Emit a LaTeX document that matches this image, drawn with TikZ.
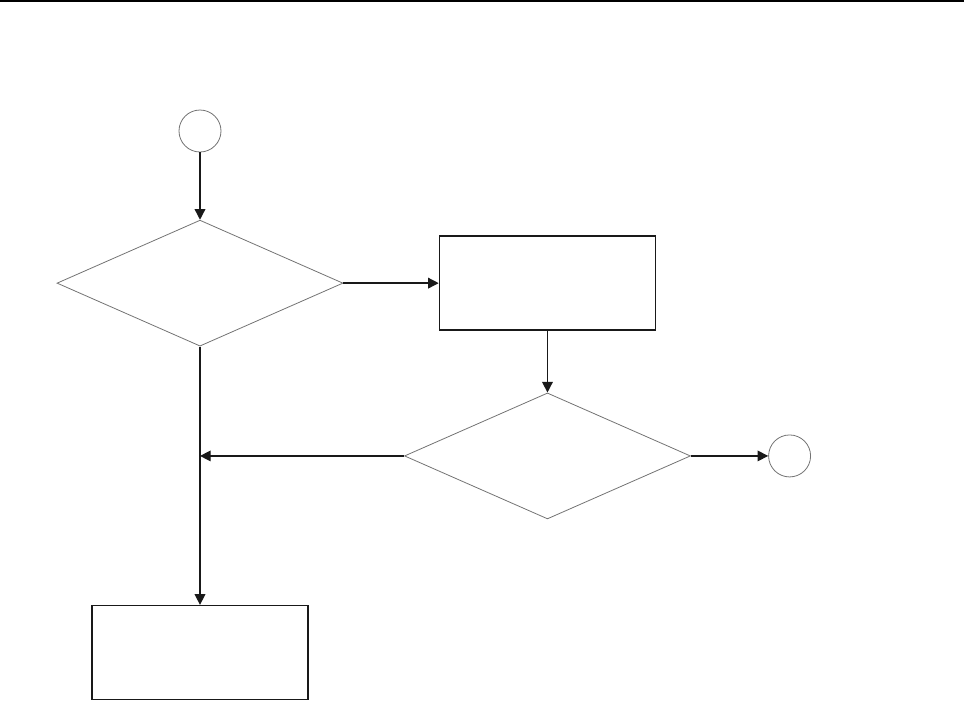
\documentclass[tikz,border=0pt]{standalone}
\usepackage{tikz}
\usetikzlibrary{positioning,arrows.meta,shapes.geometric}

\begin{document}
\begin{tikzpicture}[
  x=1pt, y=1pt,
  termnode/.style={circle, draw=black!55, line width=0.6pt, inner sep=0pt, minimum size=31.5pt},
  decide/.style={diamond, draw=black!55, line width=0.6pt, inner sep=0pt, minimum width=214.5pt, minimum height=94.5pt},
  procbox/.style={rectangle, draw=black!90, line width=1.1pt, inner sep=0pt, minimum width=162pt, minimum height=70.5pt},
  arr/.style={-{Triangle[length=8pt,width=8pt]}, line width=1pt, draw=black!90},
]
\useasboundingbox (-150,98.25) rectangle (573,-427.5);
\fill[black] (-150,98.25) rectangle (573,96.5);

\node[termnode] (start) at (0,0) {};
\node[decide, below=50.5pt of start] (dec1) {};
\node[procbox, right=71.5pt of dec1] (box1) {};
\node[decide, below=46.25pt of box1] (dec2) {};
\node[termnode, right=58pt of dec2] (stop) {};
\node[procbox, below=193.75pt of dec1] (box2) {};
\coordinate (join) at (dec1 |- dec2.west);

\draw[arr] (start) -- (dec1.north);
\draw[arr] (dec1.east) -- (box1.west);
\draw[arr] (box1.south) -- (dec2.north);
\draw[arr] (dec2.east) -- (stop.west);
\draw[arr] (dec2.west) -- (join);
\draw[arr] (dec1.south) -- (box2.north);
\end{tikzpicture}
\end{document}
